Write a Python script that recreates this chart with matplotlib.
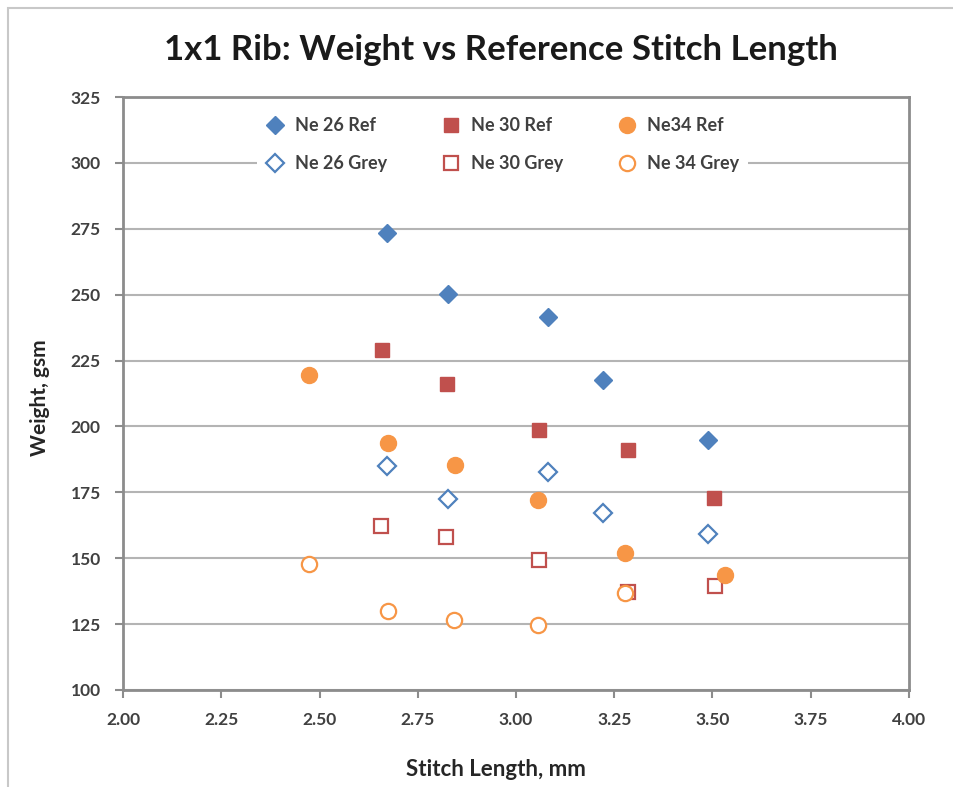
import matplotlib.pyplot as plt
from matplotlib.patches import Rectangle

# Stitch length (mm) and fabric weight (gsm) for each yarn count
ne26_ref_x = [2.671, 2.828, 3.082, 3.221, 3.489]
ne26_ref_y = [273.5, 250.4, 241.6, 217.6, 194.7]
ne30_ref_x = [2.658, 2.824, 3.058, 3.284, 3.504]
ne30_ref_y = [229.0, 216.0, 198.7, 191.2, 173.0]
ne34_ref_x = [2.474, 2.675, 2.845, 3.055, 3.277, 3.532]
ne34_ref_y = [219.5, 193.7, 185.2, 172.1, 151.8, 143.5]

ne26_grey_x = [2.671, 2.828, 3.082, 3.221, 3.489]
ne26_grey_y = [184.9, 172.4, 182.6, 167.1, 159.3]
ne30_grey_x = [2.656, 2.822, 3.058, 3.286, 3.506]
ne30_grey_y = [162.3, 158.1, 149.5, 137.3, 139.5]
ne34_grey_x = [2.474, 2.674, 2.843, 3.055, 3.277]
ne34_grey_y = [147.7, 130.1, 126.7, 124.5, 136.8]

blue = '#4F81BD'
red = '#C0504D'
orange = '#F79646'
txt = '#404040'

fig = plt.figure(figsize=(9.54, 7.87), dpi=100)
fig.patches.append(Rectangle((8 / 954, -0.05), 1.1, 1 - 8 / 787 + 0.05,
                             transform=fig.transFigure, fill=False,
                             edgecolor='#c8c8c8', linewidth=1.5))

ax = fig.add_axes([123 / 954, 1 - 690 / 787, 786 / 954, 593 / 787])

h26r, = ax.plot(ne26_ref_x, ne26_ref_y, 'D', color=blue, ms=9, mec=blue, ls='none', label='Ne 26 Ref')
h30r, = ax.plot(ne30_ref_x, ne30_ref_y, 's', color=red, ms=10.5, mec=red, ls='none', label='Ne 30 Ref')
h26g, = ax.plot(ne26_grey_x, ne26_grey_y, 'D', mfc='white', mec=blue, mew=1.6, ms=9, ls='none', label='Ne 26 Grey')
h30g, = ax.plot(ne30_grey_x, ne30_grey_y, 's', mfc='white', mec=red, mew=1.6, ms=10.5, ls='none', label='Ne 30 Grey')
h34g, = ax.plot(ne34_grey_x, ne34_grey_y, 'o', mfc='white', mec=orange, mew=1.6, ms=11, ls='none', label='Ne 34 Grey')
h34r, = ax.plot(ne34_ref_x, ne34_ref_y, 'o', color=orange, ms=11.5, mec=orange, ls='none', label='Ne34 Ref')

ax.set_xlim(2.0, 4.0)
ax.set_ylim(100, 325)
ax.set_xticks([2.0 + 0.25 * i for i in range(9)])
ax.set_yticks(range(100, 326, 25))
ax.set_xticklabels(['%.2f' % (2.0 + 0.25 * i) for i in range(9)])

ax.yaxis.grid(True, color='#b4b4b4', linewidth=1.5)
ax.set_axisbelow(True)
for s in ax.spines.values():
    s.set_color('#8c8c8c')
    s.set_linewidth(2)
ax.tick_params(direction='out', length=6, width=1.5, color='#8c8c8c',
               labelsize=12.5, labelcolor=txt)
for lbl in ax.get_xticklabels() + ax.get_yticklabels():
    lbl.set_fontweight('bold')
    lbl.set_family('Lato')
ax.tick_params(axis='x', pad=10)
ax.tick_params(axis='y', pad=10)

ax.set_xlabel('Stitch Length, mm', fontsize=16, fontweight='bold', family='Lato',
              color='#262626')
ax.xaxis.set_label_coords((496 - 123) / 786, -(769 - 690) / 593)
ax.xaxis.label.set_va('center')
ax.set_ylabel('Weight, gsm', fontsize=15, fontweight='bold', family='Lato',
              color='#262626')
ax.yaxis.set_label_coords(-(123 - 40) / 786, (690 - 398) / 593)
ax.yaxis.label.set_va('center')
fig.suptitle('1x1 Rib: Weight vs Reference Stitch Length', x=501 / 954, y=1 - 50 / 787,
             va='center', fontsize=25, fontweight='bold', family='Lato', color='#1a1a1a')

leg = ax.legend(handles=[h26r, h26g, h30r, h30g, h34r, h34g], ncol=3,
                loc='upper center', bbox_to_anchor=(0.483, 0.996),
                frameon=True, facecolor='white', edgecolor='none', framealpha=1,
                handlelength=1.0, handletextpad=0.6, columnspacing=3.05,
                labelspacing=1.15, borderpad=0.5,
                prop={'family': 'Lato', 'weight': 'bold', 'size': 13})
for t in leg.get_texts():
    t.set_color(txt)

fig.savefig('out.png', dpi=100)
